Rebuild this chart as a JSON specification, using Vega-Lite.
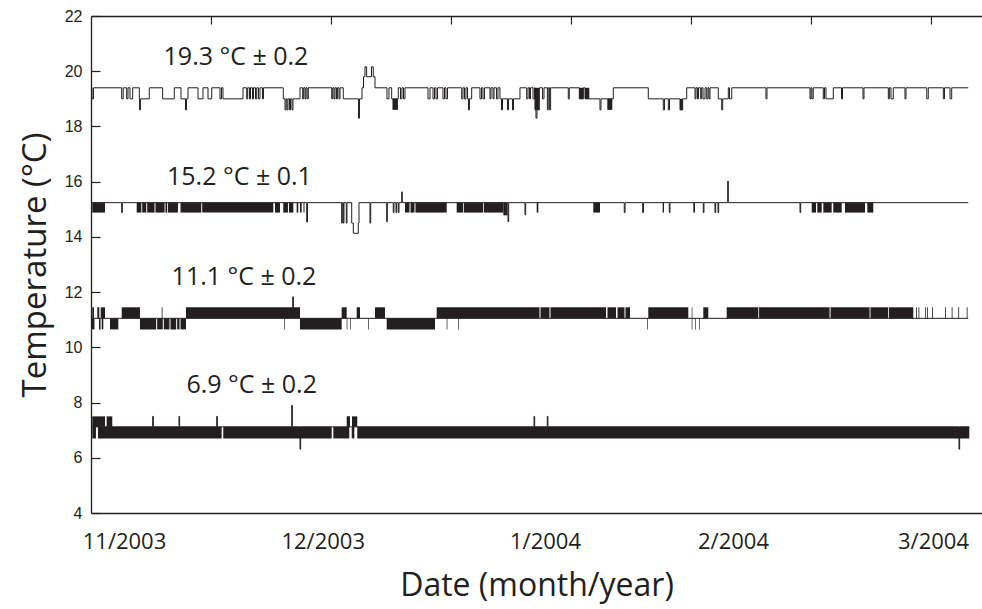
{
  "$schema": "https://vega.github.io/schema/vega-lite/v6.json",
  "width": 891,
  "height": 497,
  "autosize": {"type": "none"},
  "padding": {"left": 91, "top": 16, "right": 0, "bottom": 96},
  "background": "white",
  "config": {
    "view": {"stroke": null},
    "axis": {"grid": false, "domainColor": "#231f20", "tickColor": "#231f20", "labelColor": "#231f20", "titleColor": "#231f20", "domainWidth": 1.3, "tickWidth": 1.2, "titleFontWeight": "normal"}
  },
  "datasets": {
    "lines": [
      {"s":"19.3","day":-4.86,"temp":19.4},{"s":"19.3","day":-4.78,"temp":19.0},{"s":"19.3","day":-4.56,"temp":19.4},
      {"s":"19.3","day":-0.34,"temp":19.0},{"s":"19.3","day":-0.12,"temp":19.4},
      {"s":"19.3","day":0.40,"temp":19.0},{"s":"19.3","day":0.60,"temp":19.4},
      {"s":"19.3","day":0.90,"temp":19.0},{"s":"19.3","day":1.30,"temp":19.4},
      {"s":"19.3","day":2.29,"temp":19.0},{"s":"19.3","day":2.33,"temp":18.6},{"s":"19.3","day":2.48,"temp":19.0},{"s":"19.3","day":3.78,"temp":19.4},
      {"s":"19.3","day":5.78,"temp":19.0},{"s":"19.3","day":7.52,"temp":19.4},
      {"s":"19.3","day":8.52,"temp":19.0},{"s":"19.3","day":9.19,"temp":18.6},{"s":"19.3","day":9.34,"temp":19.0},{"s":"19.3","day":9.57,"temp":19.4},
      {"s":"19.3","day":11.06,"temp":19.0},{"s":"19.3","day":11.81,"temp":19.4},
      {"s":"19.3","day":12.56,"temp":19.0},{"s":"19.3","day":13.11,"temp":19.4},
      {"s":"19.3","day":14.35,"temp":19.0},{"s":"19.3","day":14.57,"temp":19.4},
      {"s":"19.3","day":14.80,"temp":19.0},{"s":"19.3","day":17.79,"temp":19.4},
      {"s":"19.3","day":18.34,"temp":19.0},{"s":"19.3","day":18.49,"temp":19.4},
      {"s":"19.3","day":18.76,"temp":19.0},{"s":"19.3","day":18.91,"temp":19.4},
      {"s":"19.3","day":19.21,"temp":19.0},{"s":"19.3","day":19.36,"temp":19.4},
      {"s":"19.3","day":19.66,"temp":19.0},{"s":"19.3","day":19.84,"temp":19.4},
      {"s":"19.3","day":20.10,"temp":19.0},{"s":"19.3","day":20.33,"temp":19.4},
      {"s":"19.3","day":20.70,"temp":19.0},{"s":"19.3","day":20.85,"temp":19.4},
      {"s":"19.3","day":23.81,"temp":19.0},{"s":"19.3","day":24.07,"temp":18.6},{"s":"19.3","day":24.22,"temp":19.0},{"s":"19.3","day":24.37,"temp":18.6},{"s":"19.3","day":24.51,"temp":19.0},{"s":"19.3","day":24.74,"temp":18.6},{"s":"19.3","day":24.89,"temp":19.0},{"s":"19.3","day":25.11,"temp":18.6},{"s":"19.3","day":25.26,"temp":19.0},
      {"s":"19.3","day":26.31,"temp":19.4},
      {"s":"19.3","day":26.71,"temp":19.0},{"s":"19.3","day":26.86,"temp":19.4},{"s":"19.3","day":27.06,"temp":19.0},{"s":"19.3","day":27.20,"temp":19.4},{"s":"19.3","day":27.38,"temp":19.0},{"s":"19.3","day":27.55,"temp":19.4},
      {"s":"19.3","day":31.05,"temp":19.0},{"s":"19.3","day":31.20,"temp":19.4},{"s":"19.3","day":31.39,"temp":19.0},{"s":"19.3","day":31.54,"temp":19.4},{"s":"19.3","day":31.76,"temp":19.0},{"s":"19.3","day":31.91,"temp":19.4},{"s":"19.3","day":32.14,"temp":19.0},{"s":"19.3","day":32.29,"temp":19.4},
      {"s":"19.3","day":32.78,"temp":19.0},{"s":"19.3","day":35.05,"temp":18.3},{"s":"19.3","day":35.20,"temp":19.0},{"s":"19.3","day":35.58,"temp":19.4},{"s":"19.3","day":35.80,"temp":19.8},{"s":"19.3","day":36.02,"temp":20.16},{"s":"19.3","day":36.27,"temp":19.8},{"s":"19.3","day":37.00,"temp":20.16},{"s":"19.3","day":37.26,"temp":19.8},{"s":"19.3","day":37.52,"temp":19.4},
      {"s":"19.3","day":39.31,"temp":19.0},{"s":"19.3","day":39.61,"temp":19.4},
      {"s":"19.3","day":40.01,"temp":19.0},{"s":"19.3","day":41.00,"temp":19.4},
      {"s":"19.3","day":41.33,"temp":19.0},{"s":"19.3","day":41.55,"temp":19.4},{"s":"19.3","day":41.78,"temp":19.0},{"s":"19.3","day":42.00,"temp":19.4},
      {"s":"19.3","day":45.44,"temp":19.0},{"s":"19.3","day":45.74,"temp":19.4},
      {"s":"19.3","day":46.19,"temp":19.0},{"s":"19.3","day":46.41,"temp":19.4},{"s":"19.3","day":46.64,"temp":19.0},{"s":"19.3","day":46.86,"temp":19.4},
      {"s":"19.3","day":47.68,"temp":19.0},{"s":"19.3","day":47.91,"temp":19.4},{"s":"19.3","day":48.13,"temp":19.0},{"s":"19.3","day":48.36,"temp":19.4},
      {"s":"19.3","day":50.48,"temp":19.0},{"s":"19.3","day":50.67,"temp":19.4},{"s":"19.3","day":50.90,"temp":19.0},{"s":"19.3","day":51.12,"temp":19.4},{"s":"19.3","day":51.35,"temp":19.0},{"s":"19.3","day":51.49,"temp":18.6},{"s":"19.3","day":51.64,"temp":19.0},{"s":"19.3","day":51.97,"temp":19.4},
      {"s":"19.3","day":53.21,"temp":19.0},{"s":"19.3","day":53.44,"temp":19.4},{"s":"19.3","day":53.66,"temp":19.0},{"s":"19.3","day":53.89,"temp":19.4},
      {"s":"19.3","day":54.71,"temp":19.0},{"s":"19.3","day":54.86,"temp":19.4},{"s":"19.3","day":55.16,"temp":19.0},{"s":"19.3","day":55.31,"temp":19.4},{"s":"19.3","day":55.68,"temp":19.0},{"s":"19.3","day":55.90,"temp":19.4},
      {"s":"19.3","day":56.20,"temp":19.0},{"s":"19.3","day":56.43,"temp":18.6},{"s":"19.3","day":56.58,"temp":19.0},{"s":"19.3","day":57.32,"temp":18.6},{"s":"19.3","day":57.47,"temp":19.0},{"s":"19.3","day":58.07,"temp":18.6},{"s":"19.3","day":58.22,"temp":19.0},{"s":"19.3","day":59.19,"temp":19.4},
      {"s":"19.3","day":60.19,"temp":19.0},{"s":"19.3","day":60.39,"temp":19.4},{"s":"19.3","day":60.61,"temp":19.0},{"s":"19.3","day":60.76,"temp":19.4},{"s":"19.3","day":61.14,"temp":19.0},{"s":"19.3","day":61.36,"temp":19.4},
      {"s":"19.3","day":61.43,"temp":18.6},{"s":"19.3","day":61.58,"temp":18.3},{"s":"19.3","day":61.73,"temp":18.6},{"s":"19.3","day":62.08,"temp":19.4},
      {"s":"19.3","day":62.56,"temp":19.0},{"s":"19.3","day":62.78,"temp":19.4},
      {"s":"19.3","day":63.29,"temp":18.6},{"s":"19.3","day":63.41,"temp":19.4},{"s":"19.3","day":63.62,"temp":18.6},{"s":"19.3","day":63.77,"temp":19.4},
      {"s":"19.3","day":66.41,"temp":19.0},{"s":"19.3","day":66.56,"temp":19.4},
      {"s":"19.3","day":68.06,"temp":19.0},{"s":"19.3","day":68.66,"temp":19.4},{"s":"19.3","day":68.91,"temp":19.0},{"s":"19.3","day":71.15,"temp":18.6},{"s":"19.3","day":71.30,"temp":19.0},{"s":"19.3","day":73.14,"temp":19.4},
      {"s":"19.3","day":78.37,"temp":19.0},{"s":"19.3","day":80.61,"temp":18.6},{"s":"19.3","day":80.79,"temp":19.0},{"s":"19.3","day":81.36,"temp":18.6},{"s":"19.3","day":81.54,"temp":19.0},{"s":"19.3","day":83.11,"temp":18.6},{"s":"19.3","day":83.51,"temp":19.0},{"s":"19.3","day":84.11,"temp":19.4},
      {"s":"19.3","day":85.35,"temp":19.0},{"s":"19.3","day":85.50,"temp":19.4},{"s":"19.3","day":85.72,"temp":19.0},{"s":"19.3","day":85.87,"temp":19.4},{"s":"19.3","day":86.20,"temp":19.0},{"s":"19.3","day":86.35,"temp":19.4},{"s":"19.3","day":86.55,"temp":19.0},{"s":"19.3","day":86.85,"temp":19.4},{"s":"19.3","day":87.10,"temp":19.0},{"s":"19.3","day":87.29,"temp":19.4},{"s":"19.3","day":87.44,"temp":19.0},{"s":"19.3","day":87.59,"temp":19.4},
      {"s":"19.3","day":88.83,"temp":19.0},{"s":"19.3","day":89.34,"temp":18.6},{"s":"19.3","day":89.49,"temp":19.0},{"s":"19.3","day":90.33,"temp":19.4},{"s":"19.3","day":90.51,"temp":19.0},{"s":"19.3","day":90.84,"temp":19.4},
      {"s":"19.3","day":95.96,"temp":19.0},{"s":"19.3","day":96.11,"temp":19.4},
      {"s":"19.3","day":102.54,"temp":19.0},{"s":"19.3","day":102.69,"temp":19.4},{"s":"19.3","day":102.84,"temp":19.0},{"s":"19.3","day":103.03,"temp":19.4},
      {"s":"19.3","day":104.53,"temp":19.0},{"s":"19.3","day":104.71,"temp":19.4},{"s":"19.3","day":104.93,"temp":19.0},{"s":"19.3","day":106.02,"temp":19.4},
      {"s":"19.3","day":107.25,"temp":19.0},{"s":"19.3","day":107.40,"temp":19.4},
      {"s":"19.3","day":110.46,"temp":19.0},{"s":"19.3","day":110.61,"temp":19.4},
      {"s":"19.3","day":114.25,"temp":19.0},{"s":"19.3","day":114.40,"temp":19.4},{"s":"19.3","day":114.65,"temp":19.0},{"s":"19.3","day":114.99,"temp":19.4},
      {"s":"19.3","day":116.74,"temp":19.0},{"s":"19.3","day":116.89,"temp":19.4},
      {"s":"19.3","day":119.99,"temp":19.0},{"s":"19.3","day":120.22,"temp":19.4},
      {"s":"19.3","day":122.47,"temp":19.0},{"s":"19.3","day":122.65,"temp":19.4},
      {"s":"19.3","day":123.47,"temp":19.0},{"s":"19.3","day":123.72,"temp":19.4},
      {"s":"19.3","day":126.20,"temp":19.4},

      {"s":"15.2","day":-4.86,"temp":15.24},
      {"s":"15.2","day":-0.34,"temp":14.88},{"s":"15.2","day":-0.24,"temp":15.24},
      {"s":"15.2","day":27.31,"temp":14.54},{"s":"15.2","day":27.43,"temp":15.24},
      {"s":"15.2","day":32.54,"temp":14.5},{"s":"15.2","day":32.63,"temp":15.24},{"s":"15.2","day":32.78,"temp":14.5},{"s":"15.2","day":32.88,"temp":15.24},{"s":"15.2","day":33.23,"temp":14.5},{"s":"15.2","day":33.33,"temp":15.24},
      {"s":"15.2","day":34.04,"temp":14.5},{"s":"15.2","day":34.28,"temp":14.13},{"s":"15.2","day":35.02,"temp":14.5},{"s":"15.2","day":35.13,"temp":15.24},
      {"s":"15.2","day":36.77,"temp":14.5},{"s":"15.2","day":36.88,"temp":15.24},
      {"s":"15.2","day":39.27,"temp":14.55},{"s":"15.2","day":39.36,"temp":15.24},
      {"s":"15.2","day":40.25,"temp":14.88},{"s":"15.2","day":40.36,"temp":15.24},{"s":"15.2","day":40.66,"temp":14.88},{"s":"15.2","day":40.76,"temp":15.24},{"s":"15.2","day":41.0,"temp":14.88},{"s":"15.2","day":41.11,"temp":15.24},
      {"s":"15.2","day":41.51,"temp":15.63},{"s":"15.2","day":41.60,"temp":15.24},
      {"s":"15.2","day":57.40,"temp":14.55},{"s":"15.2","day":57.50,"temp":15.24},
      {"s":"15.2","day":59.94,"temp":14.8},{"s":"15.2","day":60.04,"temp":15.24},
      {"s":"15.2","day":74.78,"temp":14.88},{"s":"15.2","day":74.90,"temp":15.24},
      {"s":"15.2","day":77.53,"temp":14.88},{"s":"15.2","day":77.65,"temp":15.24},
      {"s":"15.2","day":81.51,"temp":14.88},{"s":"15.2","day":81.61,"temp":15.24},
      {"s":"15.2","day":86.59,"temp":14.88},{"s":"15.2","day":86.69,"temp":15.24},
      {"s":"15.2","day":88.34,"temp":14.88},{"s":"15.2","day":88.44,"temp":15.24},{"s":"15.2","day":88.79,"temp":14.88},{"s":"15.2","day":88.89,"temp":15.24},
      {"s":"15.2","day":90.24,"temp":16.02},{"s":"15.2","day":90.33,"temp":15.24},
      {"s":"15.2","day":101.05,"temp":14.88},{"s":"15.2","day":101.15,"temp":15.24},
      {"s":"15.2","day":126.20,"temp":15.24},

      {"s":"11.1","day":-4.86,"temp":11.05},{"s":"11.1","day":25.22,"temp":11.83},{"s":"11.1","day":25.32,"temp":11.05},{"s":"11.1","day":126.20,"temp":11.05},

      {"s":"6.9","day":-4.86,"temp":7.12},{"s":"6.9","day":4.29,"temp":7.5},{"s":"6.9","day":4.39,"temp":7.12},{"s":"6.9","day":8.22,"temp":7.5},{"s":"6.9","day":8.32,"temp":7.12},{"s":"6.9","day":13.86,"temp":7.5},{"s":"6.9","day":13.96,"temp":7.12},{"s":"6.9","day":25.07,"temp":7.9},{"s":"6.9","day":25.17,"temp":7.12},{"s":"6.9","day":26.31,"temp":6.31},{"s":"6.9","day":26.41,"temp":7.12},{"s":"6.9","day":61.29,"temp":7.5},{"s":"6.9","day":61.39,"temp":7.12},{"s":"6.9","day":63.27,"temp":7.5},{"s":"6.9","day":63.37,"temp":7.12},{"s":"6.9","day":124.81,"temp":6.31},{"s":"6.9","day":124.91,"temp":7.12},{"s":"6.9","day":126.35,"temp":7.12}
    ],
    "bands": [
      {"s":"19.3","d1":40.13,"d2":40.95,"lo":18.6,"hi":19.0},
      {"s":"19.3","d1":61.43,"d2":62.08,"lo":18.6,"hi":19.4},
      {"s":"19.3","d1":68.06,"d2":68.66,"lo":19.0,"hi":19.4},
      {"s":"19.3","d1":68.91,"d2":69.55,"lo":19.0,"hi":19.4},
      {"s":"19.3","d1":72.24,"d2":72.99,"lo":18.6,"hi":19.0},
      {"s":"19.3","d1":83.11,"d2":83.51,"lo":18.6,"hi":19.0},

      {"s":"15.2","d1":-4.74,"d2":-2.84,"lo":14.88,"hi":15.24},
      {"s":"15.2","d1":1.90,"d2":2.59,"lo":14.88,"hi":15.24},
      {"s":"15.2","d1":2.72,"d2":3.33,"lo":14.88,"hi":15.24},
      {"s":"15.2","d1":3.47,"d2":4.57,"lo":14.88,"hi":15.24},
      {"s":"15.2","d1":4.71,"d2":6.07,"lo":14.88,"hi":15.24},
      {"s":"15.2","d1":6.20,"d2":6.43,"lo":14.88,"hi":15.24},
      {"s":"15.2","d1":6.55,"d2":8.07,"lo":14.88,"hi":15.24},
      {"s":"15.2","d1":8.45,"d2":11.55,"lo":14.88,"hi":15.24},
      {"s":"15.2","d1":11.69,"d2":22.32,"lo":14.88,"hi":15.24},
      {"s":"15.2","d1":22.57,"d2":23.32,"lo":14.88,"hi":15.24},
      {"s":"15.2","d1":23.81,"d2":24.51,"lo":14.88,"hi":15.24},
      {"s":"15.2","d1":24.66,"d2":25.31,"lo":14.88,"hi":15.24},
      {"s":"15.2","d1":25.81,"d2":26.05,"lo":14.88,"hi":15.24},
      {"s":"15.2","d1":26.31,"d2":26.56,"lo":14.88,"hi":15.24},
      {"s":"15.2","d1":26.83,"d2":26.98,"lo":14.88,"hi":15.24},
      {"s":"15.2","d1":42.0,"d2":42.68,"lo":14.88,"hi":15.24},
      {"s":"15.2","d1":42.83,"d2":43.42,"lo":14.88,"hi":15.24},
      {"s":"15.2","d1":43.57,"d2":48.24,"lo":14.88,"hi":15.24},
      {"s":"15.2","d1":49.73,"d2":50.67,"lo":14.88,"hi":15.24},
      {"s":"15.2","d1":50.79,"d2":53.66,"lo":14.88,"hi":15.24},
      {"s":"15.2","d1":53.78,"d2":56.70,"lo":14.88,"hi":15.24},
      {"s":"15.2","d1":56.70,"d2":57.32,"lo":14.78,"hi":15.24},
      {"s":"15.2","d1":61.69,"d2":61.93,"lo":14.88,"hi":15.24},
      {"s":"15.2","d1":70.15,"d2":71.15,"lo":14.88,"hi":15.24},
      {"s":"15.2","d1":80.52,"d2":80.72,"lo":14.88,"hi":15.24},
      {"s":"15.2","d1":85.10,"d2":85.35,"lo":14.88,"hi":15.24},
      {"s":"15.2","d1":102.80,"d2":103.44,"lo":14.88,"hi":15.24},
      {"s":"15.2","d1":103.63,"d2":104.29,"lo":14.88,"hi":15.24},
      {"s":"15.2","d1":104.53,"d2":105.78,"lo":14.88,"hi":15.24},
      {"s":"15.2","d1":106.02,"d2":107.28,"lo":14.88,"hi":15.24},
      {"s":"15.2","d1":107.77,"d2":110.76,"lo":14.88,"hi":15.24},
      {"s":"15.2","d1":111.11,"d2":112.0,"lo":14.88,"hi":15.24},

      {"s":"11.1","d1":-4.74,"d2":-4.48,"lo":11.05,"hi":11.45},
      {"s":"11.1","d1":-3.99,"d2":-3.69,"lo":11.05,"hi":11.45},
      {"s":"11.1","d1":-3.48,"d2":-2.84,"lo":11.05,"hi":11.45},
      {"s":"11.1","d1":-0.34,"d2":2.39,"lo":11.05,"hi":11.45},
      {"s":"11.1","d1":5.64,"d2":5.76,"lo":11.05,"hi":11.45},
      {"s":"11.1","d1":9.27,"d2":26.31,"lo":11.05,"hi":11.45},
      {"s":"11.1","d1":32.54,"d2":33.29,"lo":11.05,"hi":11.45},
      {"s":"11.1","d1":34.78,"d2":35.28,"lo":11.05,"hi":11.45},
      {"s":"11.1","d1":37.52,"d2":39.01,"lo":11.05,"hi":11.45},
      {"s":"11.1","d1":46.74,"d2":62.11,"lo":11.05,"hi":11.45},
      {"s":"11.1","d1":62.26,"d2":63.60,"lo":11.05,"hi":11.45},
      {"s":"11.1","d1":63.75,"d2":72.05,"lo":11.05,"hi":11.45},
      {"s":"11.1","d1":72.27,"d2":73.54,"lo":11.05,"hi":11.45},
      {"s":"11.1","d1":73.77,"d2":74.81,"lo":11.05,"hi":11.45},
      {"s":"11.1","d1":74.96,"d2":75.64,"lo":11.05,"hi":11.45},
      {"s":"11.1","d1":78.37,"d2":84.35,"lo":11.05,"hi":11.45},
      {"s":"11.1","d1":84.86,"d2":84.96,"lo":11.05,"hi":11.45},
      {"s":"11.1","d1":86.59,"d2":87.34,"lo":11.05,"hi":11.45},
      {"s":"11.1","d1":90.09,"d2":94.81,"lo":11.05,"hi":11.45},
      {"s":"11.1","d1":94.93,"d2":105.47,"lo":11.05,"hi":11.45},
      {"s":"11.1","d1":105.61,"d2":111.45,"lo":11.05,"hi":11.45},
      {"s":"11.1","d1":111.58,"d2":114.20,"lo":11.05,"hi":11.45},
      {"s":"11.1","d1":114.32,"d2":117.98,"lo":11.05,"hi":11.45},
      {"s":"11.1","d1":118.39,"d2":118.51,"lo":11.05,"hi":11.45},
      {"s":"11.1","d1":118.76,"d2":118.88,"lo":11.05,"hi":11.45},
      {"s":"11.1","d1":119.73,"d2":119.85,"lo":11.05,"hi":11.45},
      {"s":"11.1","d1":120.03,"d2":120.15,"lo":11.05,"hi":11.45},
      {"s":"11.1","d1":120.78,"d2":120.90,"lo":11.05,"hi":11.45},
      {"s":"11.1","d1":122.72,"d2":122.84,"lo":11.05,"hi":11.45},
      {"s":"11.1","d1":123.72,"d2":123.84,"lo":11.05,"hi":11.45},
      {"s":"11.1","d1":124.71,"d2":124.83,"lo":11.05,"hi":11.45},
      {"s":"11.1","d1":125.97,"d2":126.09,"lo":11.05,"hi":11.45},
      {"s":"11.1","d1":-4.78,"d2":-4.41,"lo":10.65,"hi":11.05},
      {"s":"11.1","d1":-3.74,"d2":-3.51,"lo":10.65,"hi":11.05},
      {"s":"11.1","d1":-3.33,"d2":-3.09,"lo":10.65,"hi":11.05},
      {"s":"11.1","d1":-2.09,"d2":-0.85,"lo":10.65,"hi":11.05},
      {"s":"11.1","d1":2.39,"d2":4.81,"lo":10.65,"hi":11.05},
      {"s":"11.1","d1":4.96,"d2":5.80,"lo":10.65,"hi":11.05},
      {"s":"11.1","d1":5.95,"d2":6.80,"lo":10.65,"hi":11.05},
      {"s":"11.1","d1":6.95,"d2":7.80,"lo":10.65,"hi":11.05},
      {"s":"11.1","d1":7.95,"d2":8.30,"lo":10.65,"hi":11.05},
      {"s":"11.1","d1":8.45,"d2":9.27,"lo":10.65,"hi":11.05},
      {"s":"11.1","d1":23.92,"d2":24.02,"lo":10.65,"hi":11.05},
      {"s":"11.1","d1":26.31,"d2":32.54,"lo":10.65,"hi":11.05},
      {"s":"11.1","d1":33.29,"d2":33.39,"lo":10.65,"hi":11.05},
      {"s":"11.1","d1":33.78,"d2":33.88,"lo":10.65,"hi":11.05},
      {"s":"11.1","d1":36.52,"d2":36.62,"lo":10.65,"hi":11.05},
      {"s":"11.1","d1":39.27,"d2":46.49,"lo":10.65,"hi":11.05},
      {"s":"11.1","d1":48.24,"d2":48.34,"lo":10.65,"hi":11.05},
      {"s":"11.1","d1":49.97,"d2":50.07,"lo":10.65,"hi":11.05},
      {"s":"11.1","d1":78.22,"d2":78.32,"lo":10.65,"hi":11.05},
      {"s":"11.1","d1":84.86,"d2":84.96,"lo":10.65,"hi":11.05},
      {"s":"11.1","d1":85.35,"d2":85.45,"lo":10.65,"hi":11.05},
      {"s":"11.1","d1":85.95,"d2":86.05,"lo":10.65,"hi":11.05},

      {"s":"6.9","d1":-4.74,"d2":-4.19,"lo":6.70,"hi":7.12},
      {"s":"6.9","d1":-3.89,"d2":14.60,"lo":6.70,"hi":7.12},
      {"s":"6.9","d1":14.84,"d2":31.05,"lo":6.70,"hi":7.12},
      {"s":"6.9","d1":31.29,"d2":33.68,"lo":6.70,"hi":7.12},
      {"s":"6.9","d1":34.04,"d2":34.43,"lo":6.70,"hi":7.12},
      {"s":"6.9","d1":34.87,"d2":126.35,"lo":6.70,"hi":7.12},
      {"s":"6.9","d1":-4.74,"d2":-2.84,"lo":7.12,"hi":7.5},
      {"s":"6.9","d1":-2.59,"d2":-1.75,"lo":7.12,"hi":7.5},
      {"s":"6.9","d1":33.29,"d2":33.78,"lo":7.12,"hi":7.5},
      {"s":"6.9","d1":34.08,"d2":34.87,"lo":7.12,"hi":7.5}
    ],
    "labels": [
      {"label":"19.3 °C ± 0.2","day":16.74,"temp":20.53},
      {"label":"15.2 °C ± 0.1","day":17.26,"temp":16.17},
      {"label":"11.1 °C ± 0.2","day":17.94,"temp":12.54},
      {"label":"6.9 °C ± 0.2","day":19.09,"temp":8.63}
    ]
  },
  "layer": [
    {
      "data": {"name": "bands"},
      "mark": {"type": "rect", "color": "#231f20", "strokeWidth": 0},
      "encoding": {
        "x": {"field": "d1", "type": "quantitative",
          "scale": {"domain": [-4.93, 128.25], "nice": false, "zero": false},
          "axis": {"orient": "bottom", "values": [0, 29.7, 62.93, 91.03, 120.93], "ticks": false, "labelFlush": false, "labelOverlap": false,
            "labelExpr": "datum.value < 15 ? '11/2003' : datum.value < 45 ? '12/2003' : datum.value < 75 ? '1/2004' : datum.value < 105 ? '2/2004' : '3/2004'",
            "labelFont": "Open Sans", "labelFontSize": 22, "labelPadding": 18,
            "title": "Date (month/year)", "titleFont": "Open Sans", "titleFontSize": 32, "titlePadding": 18}},
        "x2": {"field": "d2"},
        "y": {"field": "lo", "type": "quantitative",
          "scale": {"domain": [4, 22], "nice": false, "zero": false},
          "axis": {"orient": "left", "values": [4, 6, 8, 10, 12, 14, 16, 18, 20, 22], "tickSize": -9, "labelPadding": 18, "labelFont": "Liberation Sans", "labelFontSize": 16, "title": "Temperature (°C)", "titleFont": "Open Sans", "titleFontSize": 33, "titlePadding": 12}},
        "y2": {"field": "hi"}
      }
    },
    {
      "data": {"name": "lines"},
      "mark": {"type": "line", "interpolate": "step-after", "color": "#231f20", "strokeWidth": 1},
      "encoding": {
        "x": {"field": "day", "type": "quantitative",
          "axis": {"orient": "top", "values": [13.0, 30.94, 48.88, 66.82, 84.75, 102.69, 120.63], "labels": false, "tickSize": -8, "title": null}},
        "y": {"field": "temp", "type": "quantitative",
          "axis": {"orient": "left", "values": [4, 6, 8, 10, 12, 14, 16, 18, 20, 22], "tickSize": -9, "labelPadding": 18, "labelFont": "Liberation Sans", "labelFontSize": 16, "title": "Temperature (°C)", "titleFont": "Open Sans", "titleFontSize": 33, "titlePadding": 12}},
        "detail": {"field": "s"}
      }
    },
    {
      "data": {"name": "labels"},
      "mark": {"type": "text", "font": "Open Sans", "fontSize": 25, "color": "#231f20", "align": "center", "baseline": "middle"},
      "encoding": {
        "x": {"field": "day", "type": "quantitative", "axis": null},
        "y": {"field": "temp", "type": "quantitative",
          "axis": {"orient": "left", "values": [4, 6, 8, 10, 12, 14, 16, 18, 20, 22], "tickSize": -9, "labelPadding": 18, "labelFont": "Liberation Sans", "labelFontSize": 16, "title": "Temperature (°C)", "titleFont": "Open Sans", "titleFontSize": 33, "titlePadding": 12}},
        "text": {"field": "label"}
      }
    }
  ],
  "resolve": {"axis": {"x": "independent"}}
}
